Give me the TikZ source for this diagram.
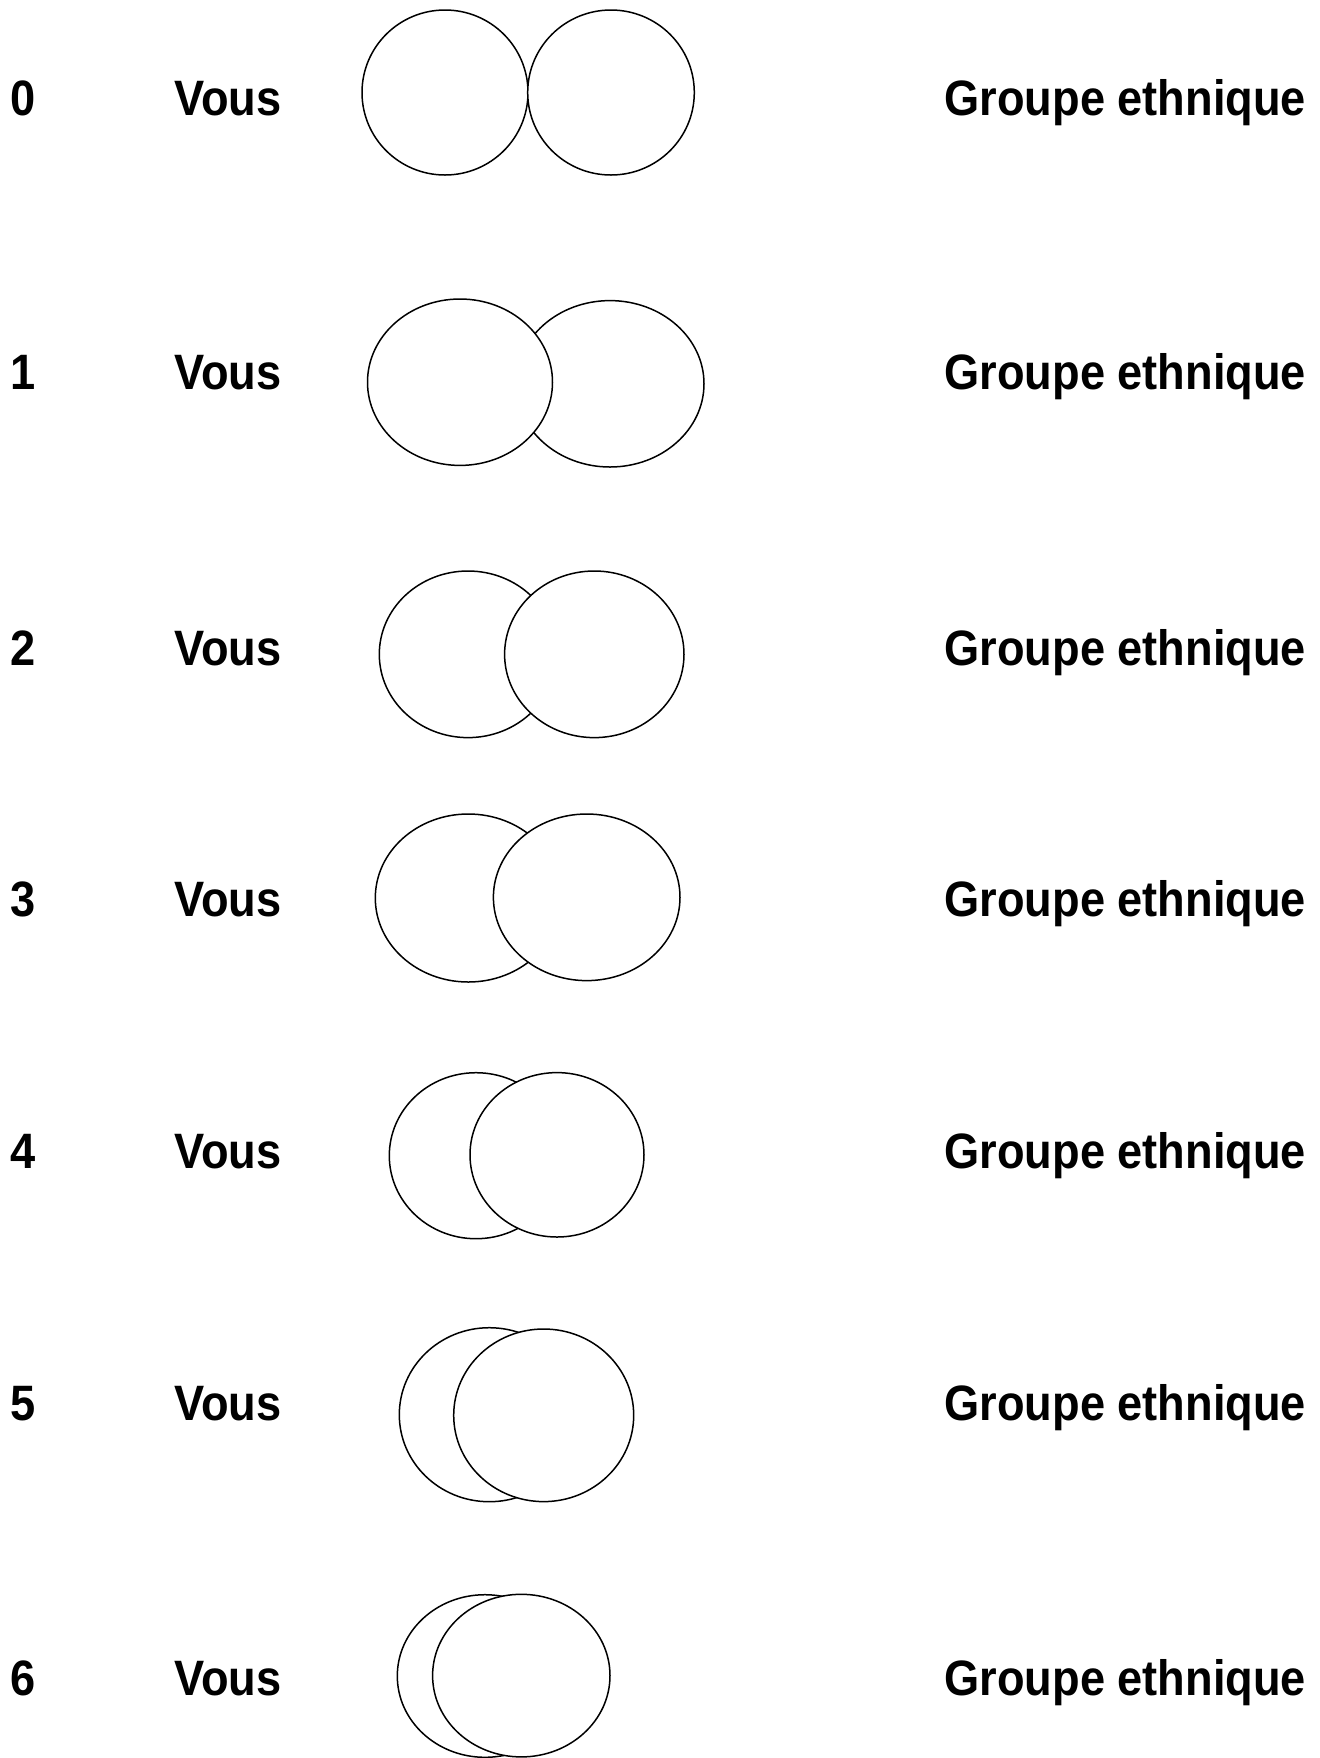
\documentclass[tikz,border=0pt]{standalone}
\usepackage{fontspec}
\setmainfont{Liberation Sans}
\begin{document}
\begin{tikzpicture}[x=0.5pt,y=-0.5pt,
  ring/.style={draw=black,fill=white,line width=0.75pt},
  lbl/.style={inner sep=0pt,anchor=base west,font=\fontsize{22.6}{26}\selectfont\bfseries}]
\useasboundingbox (0,0) rectangle (1320,1758);
\newcommand{\sq}[1]{\scalebox{1}[1.1]{#1}}
% row labels
\foreach \n/\y in {0/115,1/389.5,2/665,3/916,4/1168,5/1420,6/1695}{
  \node[lbl] (num\n) at (10.5,\y) {\sq{\n}};
  \node[lbl] (vous\n) at (174,\y) {\sq{Vous}};
  \node[lbl] (grp\n) at (944,\y) {\sq{Groupe ethnique}};
}
% row 0
\draw[ring] (445,92.5) ellipse [x radius=83, y radius=82.5];
\draw[ring] (611,92.5) ellipse [x radius=83.3, y radius=82.5];
% row 1 (left on top)
\draw[ring] (610,383.8) ellipse [x radius=94, y radius=83.2];
\draw[ring] (460,382.2) ellipse [x radius=92.5, y radius=83.2];
% row 2
\draw[ring] (468,654.3) ellipse [x radius=88.7, y radius=83.3];
\draw[ring] (594.3,654.3) ellipse [x radius=89.7, y radius=83.3];
% row 3
\draw[ring] (468.3,898) ellipse [x radius=93, y radius=84];
\draw[ring] (586.7,897.3) ellipse [x radius=93.3, y radius=83.3];
% row 4
\draw[ring] (476,1155.7) ellipse [x radius=86.7, y radius=83];
\draw[ring] (557,1154.8) ellipse [x radius=87, y radius=82.2];
% row 5
\draw[ring] (489.3,1414.7) ellipse [x radius=90, y radius=87];
\draw[ring] (543.7,1415.3) ellipse [x radius=90, y radius=86.3];
% row 6
\draw[ring] (485,1676) ellipse [x radius=87.7, y radius=81.3];
\draw[ring] (521.3,1675.6) ellipse [x radius=88.7, y radius=81.3];
\end{tikzpicture}
\end{document}
